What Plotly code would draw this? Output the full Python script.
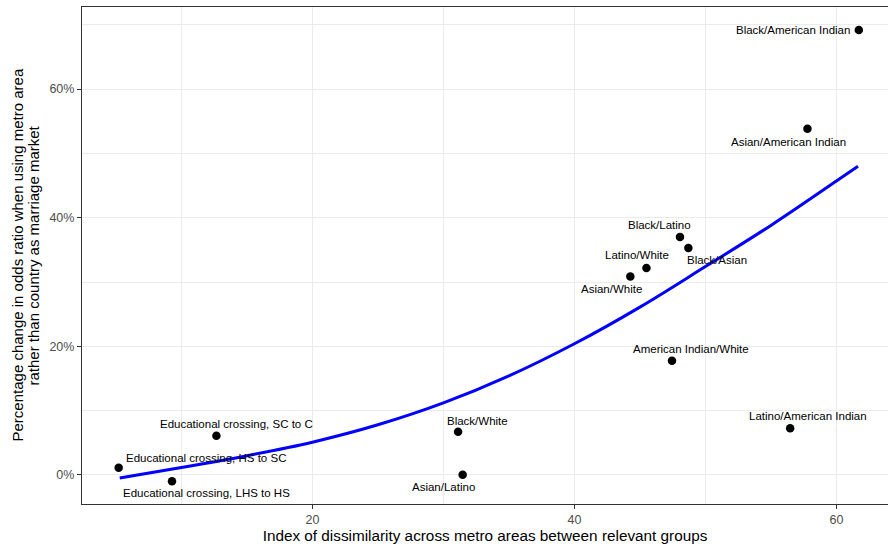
import plotly.graph_objects as go

# ---- data ----
labels = [
    "Black/American Indian", "Asian/American Indian", "Black/Latino", "Black/Asian",
    "Latino/White", "Asian/White", "American Indian/White", "Latino/American Indian",
    "Black/White", "Asian/Latino", "Educational crossing, SC to C",
    "Educational crossing, HS to SC", "Educational crossing, LHS to HS",
]
dissimilarity = [61.71, 57.79, 48.06, 48.70, 45.50, 44.27, 47.45, 56.47,
                 31.12, 31.47, 12.67, 5.21, 9.28]
pct_change = [0.6918, 0.5383, 0.3698, 0.3527, 0.3216, 0.3087, 0.1776, 0.0726,
              0.0673, 0.0005, 0.0611, 0.0114, -0.0098]

fit_x = [5.29, 10, 15, 20, 25, 30, 35, 40, 45, 50, 55, 60, 61.65]
fit_y = [-0.0047, 0.0115, 0.030, 0.051, 0.078, 0.112, 0.154, 0.204, 0.261, 0.324, 0.388, 0.457, 0.480]

x_ticks = [20, 40, 60]
y_ticks = [0.0, 0.2, 0.4, 0.6]
y_tick_text = ["0%", "20%", "40%", "60%"]

x_title = "Index of dissimilarity across metro areas between relevant groups"
y_title_lines = ["Percentage change in odds ratio when using metro area",
                 "rather than country as marriage market"]

# ---- label placement (pixel offsets: dx right, dy down) ----
label_offsets = [(-7, 0, "right"), (-19, 13, "center"), (-20, -12, "center"), (29, 12, "center"),
                 (-9, -13, "center"), (-19, 13, "center"), (19, -12, "center"), (18, -12, "center"),
                 (19, -11, "center"), (-19, 12, "center"), (20, -12, "center"),
                 (87, -10, "center"), (35, 11.5, "center")]

FONT = "Liberation Sans, Arial, sans-serif"
PLOT_W = 806

fig = go.Figure()
fig.add_trace(go.Scatter(x=fit_x, y=fit_y, mode="lines", line=dict(color="#0000FF", width=3, shape="spline", smoothing=1),
                         hoverinfo="skip", showlegend=False))
fig.add_trace(go.Scatter(x=dissimilarity, y=pct_change, mode="markers",
                         marker=dict(color="black", size=8.5), text=labels, showlegend=False))

for lab, xv, yv, (dx, dy, anc) in zip(labels, dissimilarity, pct_change, label_offsets):
    fig.add_annotation(x=xv, y=yv, text=lab, showarrow=False, xanchor=anc, yanchor="middle",
                       xshift=dx, yshift=-dy, font=dict(family=FONT, size=11.5, color="black"))

for line_text, px in zip(y_title_lines, [17, 33]):
    fig.add_annotation(xref="paper", yref="paper", x=-(82 - px) / PLOT_W, y=0.5, textangle=-90,
                       text=line_text, showarrow=False, xanchor="center", yanchor="middle",
                       font=dict(family=FONT, size=15, color="black"))

grid = "#EBEBEB"
fig.update_layout(
    width=888, height=547,
    margin=dict(l=82, r=0, t=7, b=43),
    paper_bgcolor="white", plot_bgcolor="white",
    font=dict(family=FONT),
    xaxis=dict(range=[2.41, 63.94], tickvals=x_ticks, ticks="outside", ticklen=4, tickcolor="#333333",
               tickfont=dict(size=12.5, color="#4D4D4D"), showgrid=True, gridcolor=grid, gridwidth=1.1,
               minor=dict(tickvals=[10, 30, 50], showgrid=True, gridcolor=grid, gridwidth=0.6),
               showline=True, linecolor="#333333", linewidth=1.1, mirror=True, zeroline=False,
               title=dict(text=x_title, font=dict(size=15.3, color="black"), standoff=3)),
    yaxis=dict(range=[-0.0451, 0.7275], tickvals=y_ticks, ticktext=y_tick_text, ticks="outside", ticklen=4,
               tickcolor="#333333", tickfont=dict(size=12.5, color="#4D4D4D"), showgrid=True, gridcolor=grid,
               gridwidth=1.1,
               minor=dict(tickvals=[0.1, 0.3, 0.5, 0.7], showgrid=True, gridcolor=grid, gridwidth=0.6),
               showline=True, linecolor="#333333", linewidth=1.1, mirror=False, zeroline=False),
)

fig.write_html("out.html", config={"displayModeBar": False},
               post_script="document.body.style.margin='0';document.body.style.overflow='hidden';")
